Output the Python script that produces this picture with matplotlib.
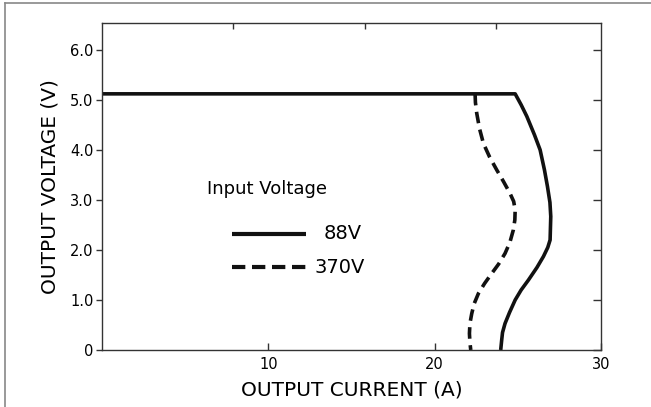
import matplotlib
matplotlib.use("Agg")
import matplotlib.pyplot as plt
from matplotlib.lines import Line2D

# ---- data ----
current_88v = [0, 24.84, 25.2, 25.54, 26.0, 26.34, 26.6, 26.78, 26.93, 26.98, 26.94, 26.8, 26.54,
               26.15, 25.64, 25.2, 24.84, 24.5, 24.23, 24.08, 24.03, 23.97]
voltage_88v = [5.12, 5.12, 4.9, 4.67, 4.3, 4.0, 3.6, 3.27, 2.95, 2.67, 2.2, 2.05, 1.87,
               1.65, 1.4, 1.2, 1.0, 0.75, 0.53, 0.35, 0.2, 0]

current_370v = [22.43, 22.45, 22.53, 22.7, 22.93, 23.3, 23.73, 24.15, 24.53, 24.75, 24.84, 24.82, 24.73,
                24.52, 24.23, 23.85, 23.43, 23.0, 22.63, 22.38, 22.23, 22.12, 22.09, 22.12, 22.17]
voltage_370v = [5.12, 4.95, 4.73, 4.42, 4.13, 3.86, 3.6, 3.36, 3.13, 2.97, 2.8, 2.6, 2.4,
                2.15, 1.93, 1.72, 1.53, 1.33, 1.13, 0.93, 0.73, 0.53, 0.33, 0.15, 0]

y_ticks = [0, 1, 2, 3, 4, 5, 6]
y_tick_labels = ["0", "1.0", "2.0", "3.0", "4.0", "5.0", "6.0"]
x_ticks = [10, 20, 30]
x_tick_labels = ["10", "20", "30"]
top_ticks = [7.86, 15.8, 23.7]

legend_title = "Input Voltage"
series_labels = ["88V", "370V"]

plt.rcParams['font.family'] = ['DejaVu Sans']

W, H = 651, 407
fig = plt.figure(figsize=(W / 100, H / 100), dpi=100)
fig.patch.set_facecolor('white')

# outer frame lines (top and left)
fig.add_artist(Line2D([5 / W, 1], [1 - 3 / H, 1 - 3 / H], transform=fig.transFigure,
                      color='#888888', lw=1.2))
fig.add_artist(Line2D([5 / W, 5 / W], [0, 1 - 3 / H], transform=fig.transFigure,
                      color='#888888', lw=1.2))

ax = fig.add_axes([102 / W, (H - 350) / H, (601 - 102) / W, (350 - 23.3) / H])
ax.set_xlim(0, 30)
ax.set_ylim(0, 6.53)

ink = '#111111'
lw = 2.6
ax.plot(current_88v, voltage_88v, color=ink, lw=lw, solid_joinstyle='round', solid_capstyle='butt')
ax.plot(current_370v, voltage_370v, color=ink, lw=lw, dashes=(3.2, 1.8), dash_capstyle='butt')

for s in ax.spines.values():
    s.set_color('#333333')
    s.set_linewidth(1.0)

ax.set_yticks(y_ticks)
ax.set_yticklabels(y_tick_labels)
ax.set_xticks(x_ticks)
ax.set_xticklabels(x_tick_labels)
ax.tick_params(axis='y', direction='out', length=4, width=1, color='#333333',
               labelsize=10.5, pad=2, right=False)
ax.tick_params(axis='x', direction='in', length=5, width=1, color='#333333',
               labelsize=10.5, pad=5)
# right ticks inward
ax2 = ax.secondary_yaxis('right')
ax2.set_yticks(y_ticks)
ax2.tick_params(direction='in', length=6, width=1, color='#333333', labelright=False)
ax2.spines['right'].set_visible(False)
ax3 = ax.secondary_xaxis('top')
ax3.set_xticks(top_ticks)
ax3.tick_params(direction='in', length=4, width=1, color='#333333', labeltop=False)
ax3.spines['top'].set_visible(False)

ax.set_xlabel("OUTPUT CURRENT (A)", fontsize=14.5, labelpad=6)
ax.set_ylabel("OUTPUT VOLTAGE (V)", fontsize=14.5, labelpad=8)

# legend drawn inside plot
ax.text(6.34, 3.22, legend_title, fontsize=13, va='center', ha='left')
ax.plot([7.82, 12.27], [2.32, 2.32], color=ink, lw=3.0, solid_capstyle='butt')
ax.text(13.33, 2.32, series_labels[0], fontsize=14, va='center', ha='left')
ax.plot([7.82, 12.27], [1.65, 1.65], color=ink, lw=3.0, dashes=(3.2, 1.6), dash_capstyle='butt')
ax.text(12.75, 1.65, series_labels[1], fontsize=14, va='center', ha='left')

fig.savefig("out.png", dpi=100)
